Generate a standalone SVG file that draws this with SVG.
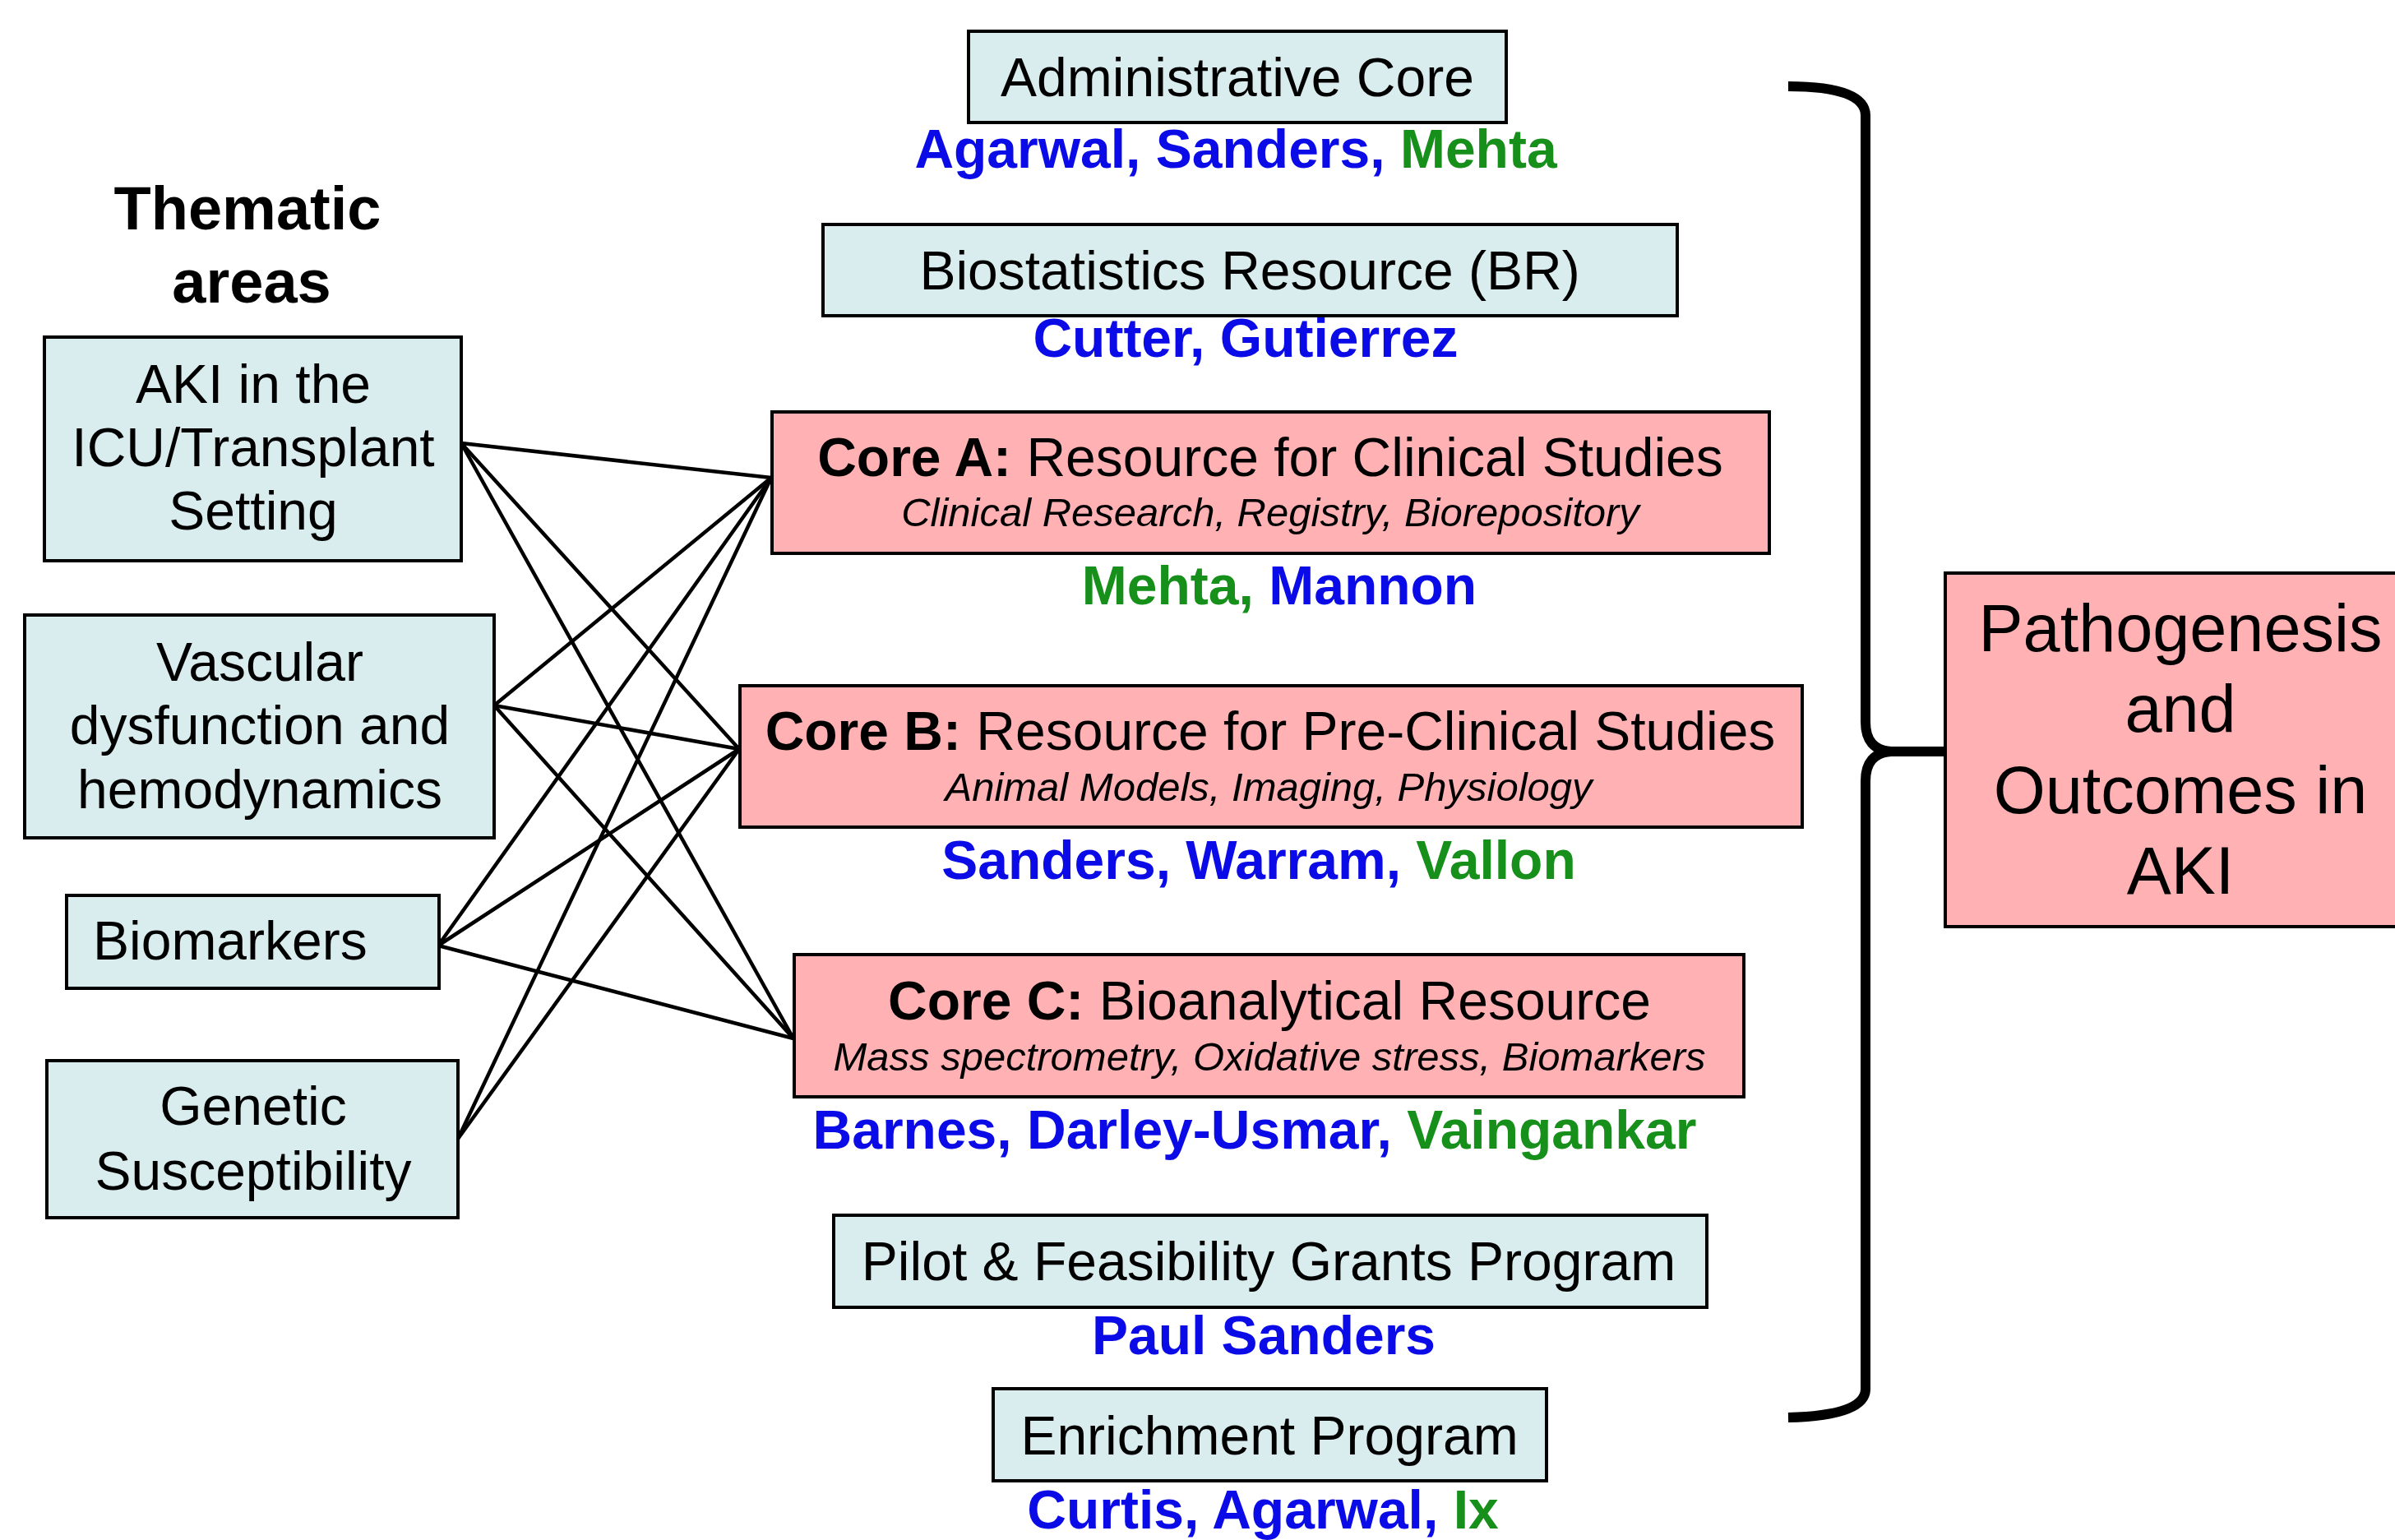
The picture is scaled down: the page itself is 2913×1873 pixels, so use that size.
<svg xmlns="http://www.w3.org/2000/svg" width="2913" height="1873" viewBox="0 0 2913 1873">
<style>
text{font-family:"Liberation Sans",Arial,sans-serif;fill:#000}
.box{fill:#d9ecee;stroke:#000;stroke-width:4}
.core{fill:#ffb1b4;stroke:#000;stroke-width:4}
.t{font-size:66px;text-anchor:middle}
.it{font-size:49px;font-style:italic;text-anchor:middle}
.nm{font-size:66px;font-weight:bold;text-anchor:middle}
.b{fill:#0b0be8}
.g{fill:#16901a}
.bold{font-weight:bold}
.conn line{stroke:#000;stroke-width:4.5;stroke-linecap:round}
</style>
<rect width="2913" height="1873" fill="#fff"/>

<g id="title">
<text x="301" y="279" font-size="74" font-weight="bold" text-anchor="middle">Thematic</text>
<text x="306" y="368" font-size="74" font-weight="bold" text-anchor="middle">areas</text>
</g>

<g id="connectors" class="conn">
<line x1="561" y1="539" x2="938" y2="581"/>
<line x1="561" y1="539" x2="899" y2="911"/>
<line x1="561" y1="539" x2="965" y2="1263"/>
<line x1="601" y1="858" x2="938" y2="581"/>
<line x1="601" y1="858" x2="899" y2="911"/>
<line x1="601" y1="858" x2="965" y2="1263"/>
<line x1="533" y1="1150" x2="938" y2="581"/>
<line x1="533" y1="1150" x2="899" y2="911"/>
<line x1="533" y1="1150" x2="965" y2="1263"/>
<line x1="557" y1="1385" x2="938" y2="581"/>
<line x1="557" y1="1385" x2="899" y2="911"/>
</g>

<g id="aki">
<rect class="box" x="54" y="410" width="507" height="272"/>
<text class="t" x="308" y="490">AKI in the</text>
<text class="t" x="308" y="567">ICU/Transplant</text>
<text class="t" x="308" y="644">Setting</text>
</g>
<g id="vascular">
<rect class="box" x="30" y="748" width="571" height="271"/>
<text class="t" x="316" y="828">Vascular</text>
<text class="t" x="316" y="905">dysfunction and</text>
<text class="t" x="316" y="983">hemodynamics</text>
</g>
<g id="biomarkers">
<rect class="box" x="81" y="1089" width="453" height="113"/>
<text x="113" y="1167" font-size="66">Biomarkers</text>
</g>
<g id="genetic">
<rect class="box" x="57" y="1290" width="500" height="191"/>
<text class="t" x="308" y="1368">Genetic</text>
<text class="t" x="308" y="1447">Susceptibility</text>
</g>

<g id="admin">
<rect class="box" x="1178" y="38" width="654" height="111"/>
<text class="t" x="1505" y="117">Administrative Core</text>
<text class="nm" x="1503" y="204"><tspan class="b">Agarwal, Sanders, </tspan><tspan class="g">Mehta</tspan></text>
</g>
<g id="biostat">
<rect class="box" x="1001" y="273" width="1039" height="111"/>
<text class="t" x="1520" y="352">Biostatistics Resource (BR)</text>
<text class="nm" x="1515" y="434"><tspan class="b">Cutter, Gutierrez</tspan></text>
</g>
<g id="coreA">
<rect class="core" x="939" y="501" width="1213" height="172"/>
<text class="t" x="1545" y="579"><tspan class="bold">Core A:</tspan> Resource for Clinical Studies</text>
<text class="it" x="1545" y="640">Clinical Research, Registry, Biorepository</text>
<text class="nm" x="1556" y="735"><tspan class="g">Mehta, </tspan><tspan class="b">Mannon</tspan></text>
</g>
<g id="coreB">
<rect class="core" x="900" y="834" width="1292" height="172"/>
<text class="t" x="1545" y="912"><tspan class="bold">Core B:</tspan> Resource for Pre-Clinical Studies</text>
<text class="it" x="1543" y="974">Animal Models, Imaging, Physiology</text>
<text class="nm" x="1531" y="1069"><tspan class="b">Sanders, Warram, </tspan><tspan class="g">Vallon</tspan></text>
</g>
<g id="coreC">
<rect class="core" x="966" y="1161" width="1155" height="173"/>
<text class="t" x="1544" y="1240"><tspan class="bold">Core C:</tspan> Bioanalytical Resource</text>
<text class="it" x="1544" y="1302">Mass spectrometry, Oxidative stress, Biomarkers</text>
<text class="nm" x="1526" y="1397"><tspan class="b">Barnes, Darley-Usmar, </tspan><tspan class="g">Vaingankar</tspan></text>
</g>
<g id="pilot">
<rect class="box" x="1014" y="1478" width="1062" height="112"/>
<text class="t" x="1543" y="1557">Pilot &amp; Feasibility Grants Program</text>
<text class="nm" x="1537" y="1647"><tspan class="b">Paul Sanders</tspan></text>
</g>
<g id="enrichment">
<rect class="box" x="1208" y="1689" width="673" height="112"/>
<text class="t" x="1544" y="1769">Enrichment Program</text>
<text class="nm" x="1536" y="1859"><tspan class="b">Curtis, Agarwal, </tspan><tspan class="g">Ix</tspan></text>
</g>

<g id="brace">
<path d="M2175,105 Q2268,105 2269,140 L2269,878 Q2269,912 2300,914 L2366,914 M2300,914 Q2269,916 2269,950 L2269,1690 Q2268,1722 2175,1724" fill="none" stroke="#000" stroke-width="12"/>
</g>

<g id="outcome">
<rect class="core" x="2366" y="697" width="600" height="430"/>
<text x="2652" y="792" font-size="81" text-anchor="middle">Pathogenesis</text>
<text x="2652" y="890" font-size="81" text-anchor="middle">and</text>
<text x="2652" y="989" font-size="81" text-anchor="middle">Outcomes in</text>
<text x="2652" y="1087" font-size="81" text-anchor="middle">AKI</text>
</g>
</svg>
